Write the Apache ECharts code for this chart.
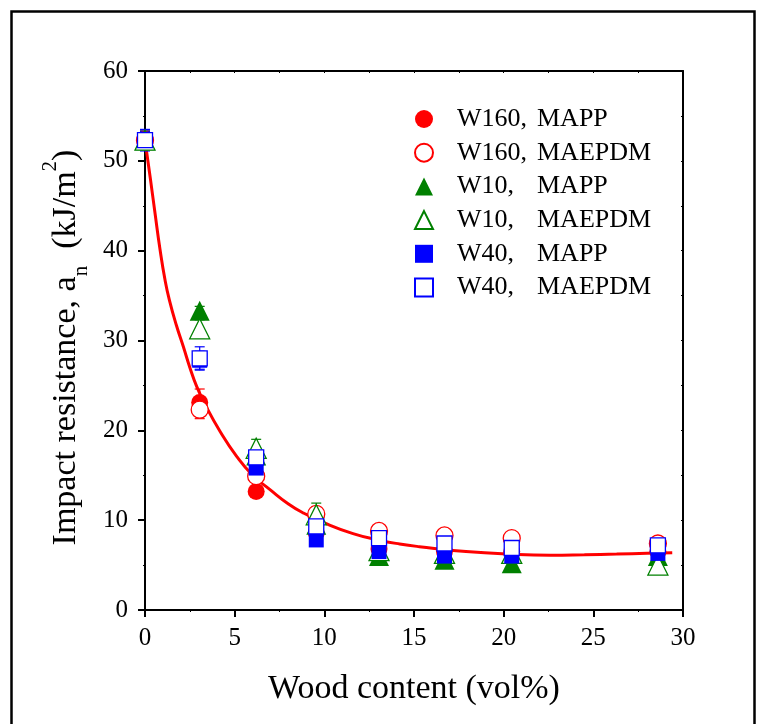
<!DOCTYPE html>
<html>
<head>
<meta charset="utf-8">
<script src="https://cdn.jsdelivr.net/npm/echarts@6/dist/echarts.min.js"></script>
<style>html,body{margin:0;padding:0;background:#fff}#c{width:762px;height:724px}</style>
</head>
<body>
<div id="c"></div>
<script>
// ---- data ----
var woodContent = [0, 3.05, 6.2, 9.55, 13.05, 16.7, 20.45, 28.6];
var seriesNames = ['W160, MAPP', 'W160, MAEPDM', 'W10, MAPP', 'W10, MAEPDM', 'W40, MAPP', 'W40, MAEPDM'];
var w160Mapp    = [52.3, 23.1, 13.2, 8.6, 6.8, 6.5, 6.5, 6.5];
var w160MappErr = [1.0, 1.5, 0.5, 0.6, 0.5, 0.5, 0.5, 0.5];
var w160Maepdm    = [52.3, 22.3, 14.9, 10.7, 8.8, 8.3, 8.0, 7.4];
var w160MaepdmErr = [1.0, 1.0, 0.7, 0.8, 0.6, 0.7, 0.6, 0.6];
var w10Mapp    = [52.3, 33.3, 17.2, 9.5, 6.0, 5.6, 5.2, 6.0];
var w10MappErr = [0.8, 0.5, 0.8, 1.0, 0.6, 0.7, 0.8, 0.6];
var w10Maepdm    = [52.3, 31.3, 18.0, 10.6, 6.6, 6.3, 6.3, 5.0];
var w10MaepdmErr = [1.0, 1.0, 1.0, 1.3, 0.8, 0.8, 0.7, 0.8];
var w40Mapp    = [52.3, 27.8, 15.8, 7.8, 6.5, 6.0, 6.0, 6.3];
var w40MappErr = [1.0, 1.0, 0.6, 0.5, 0.5, 0.5, 0.5, 0.5];
var w40Maepdm    = [52.3, 28.0, 17.0, 9.3, 8.0, 7.4, 6.9, 7.2];
var w40MaepdmErr = [1.2, 1.3, 1.0, 0.8, 0.7, 0.7, 0.6, 0.6];
// fitted curve
var fitX = [0, 0.3, 0.55, 0.84, 1.12, 1.36, 1.75, 2.14, 2.5, 2.88, 3.4, 4.18, 5.11, 6.0, 6.97, 8.0, 8.83, 10, 11.6, 13, 14.2, 15.3, 17.9, 20.5, 22.6, 24.5, 26.3, 28, 29.4];
var fitY = [52.3, 48.0, 44.3, 40.1, 36.7, 34.5, 31.7, 29.3, 27.0, 24.9, 22.7, 19.9, 17.1, 15.0, 13.4, 11.8, 10.8, 9.7, 8.5, 7.8, 7.35, 7.05, 6.5, 6.2, 6.1, 6.15, 6.23, 6.32, 6.38];
var xTicks = [0, 5, 10, 15, 20, 25, 30];
var yTicks = [0, 10, 20, 30, 40, 50, 60];

var FONT = 'Liberation Serif';
function zip(xs, ys, es) {
  return xs.map(function (x, i) { return es ? [x, ys[i], es[i]] : [x, ys[i]]; });
}
function errSeries(color, xs, ys, es) {
  return {
    type: 'custom',
    data: zip(xs, ys, es),
    silent: true,
    z: 3,
    renderItem: function (params, api) {
      var x = api.value(0), y = api.value(1), e = api.value(2);
      var t = api.coord([x, y + e]), b = api.coord([x, y - e]);
      var w = 5;
      var st = { stroke: color, lineWidth: 1.2 };
      return {
        type: 'group',
        children: [
          { type: 'line', shape: { x1: t[0], y1: t[1], x2: b[0], y2: b[1] }, style: st },
          { type: 'line', shape: { x1: t[0] - w, y1: t[1], x2: t[0] + w, y2: t[1] }, style: st },
          { type: 'line', shape: { x1: b[0] - w, y1: b[1], x2: b[0] + w, y2: b[1] }, style: st }
        ]
      };
    }
  };
}
function scatter(name, symbol, size, color, filled, xs, ys) {
  return {
    name: name,
    type: 'scatter',
    symbol: symbol,
    symbolSize: size,
    z: 3,
    itemStyle: filled ? { color: color, borderWidth: 0, opacity: 1 } : { color: '#fff', borderColor: color, borderWidth: 1.3, opacity: 1 },
    data: zip(xs, ys)
  };
}

var series = [
  { type: 'line', data: zip(fitX, fitY), smooth: true, showSymbol: false, symbol: 'none',
    lineStyle: { color: '#ff0000', width: 3 }, z: 2, silent: true },
  scatter(seriesNames[0], 'circle', 17, '#ff0000', true, woodContent, w160Mapp),
  errSeries('#ff0000', woodContent, w160Mapp, w160MappErr),
  scatter(seriesNames[1], 'circle', 17, '#ff0000', false, woodContent, w160Maepdm),
  errSeries('#ff0000', woodContent, w160Maepdm, w160MaepdmErr),
  scatter(seriesNames[2], 'triangle', 20, '#008000', true, woodContent, w10Mapp),
  errSeries('#008000', woodContent, w10Mapp, w10MappErr),
  scatter(seriesNames[3], 'triangle', 20, '#008000', false, woodContent, w10Maepdm),
  errSeries('#008000', woodContent, w10Maepdm, w10MaepdmErr),
  scatter(seriesNames[4], 'rect', 15, '#0000ff', true, woodContent, w40Mapp),
  errSeries('#0000ff', woodContent, w40Mapp, w40MappErr),
  scatter(seriesNames[5], 'rect', 15, '#0000ff', false, woodContent, w40Maepdm),
  errSeries('#0000ff', woodContent, w40Maepdm, w40MaepdmErr)
];

var axisLine = { show: true, onZero: false, lineStyle: { color: '#000', width: 2 } };
var chart = echarts.init(document.getElementById('c'), null, { renderer: 'canvas' });
chart.setOption({
  animation: false,
  backgroundColor: '#fff',
  grid: { left: 145, top: 71, right: 79, bottom: 114 },
  legend: {
    orient: 'vertical',
    left: 409,
    top: 101,
    itemWidth: 18,
    itemHeight: 18,
    itemGap: 7.7,
    data: seriesNames,
    selectedMode: false,
    formatter: function (name) {
      var p = name.split(', ');
      return '{s|}{a|' + p[0] + ',}{b|' + p[1] + '}';
    },
    textStyle: {
      fontFamily: FONT, fontSize: 26, color: '#000', lineHeight: 18,
      rich: {
        s: { width: 19, lineHeight: 18 },
        a: { width: 80, fontFamily: FONT, fontSize: 26, color: '#000', lineHeight: 18 },
        b: { fontFamily: FONT, fontSize: 26, color: '#000', lineHeight: 18 }
      }
    }
  },
  xAxis: [{
    type: 'value', min: 0, max: 30, interval: 5, position: 'bottom',
    name: 'Wood content (vol%)', nameLocation: 'middle', nameGap: 62,
    nameTextStyle: { fontFamily: FONT, fontSize: 34, color: '#000' },
    axisLine: axisLine,
    axisTick: { show: true, inside: false, length: 7, lineStyle: { color: '#000', width: 2 } },
    minorTick: { show: true, splitNumber: 2, length: 2, lineStyle: { color: '#000', width: 1 } },
    axisLabel: { fontFamily: FONT, fontSize: 25, color: '#000', margin: 16 },
    splitLine: { show: false }
  }, {
    type: 'value', min: 0, max: 30, interval: 5, position: 'top',
    axisLine: axisLine,
    axisTick: { show: true, inside: true, length: 2, lineStyle: { color: '#000', width: 1 } },
    minorTick: { show: true, splitNumber: 2, length: 2, lineStyle: { color: '#000', width: 1 } },
    axisLabel: { show: false }, splitLine: { show: false }
  }],
  yAxis: [{
    type: 'value', min: 0, max: 60, interval: 10, position: 'left',
    name: '{t|Impact resistance, a}{sub|n}{t|  (kJ/m}{sup|2}{t|)}',
    nameLocation: 'middle', nameGap: 52,
    nameTextStyle: {
      fontFamily: FONT, fontSize: 34, color: '#000',
      padding: [0, 14, 0, 0],
      rich: {
        t: { fontFamily: FONT, fontSize: 34, color: '#000', lineHeight: 52, verticalAlign: 'middle' },
        sub: { fontFamily: FONT, fontSize: 21, color: '#000', lineHeight: 52, verticalAlign: 'bottom' },
        sup: { fontFamily: FONT, fontSize: 21, color: '#000', lineHeight: 52, verticalAlign: 'top' }
      }
    },
    axisLine: axisLine,
    axisTick: { show: true, inside: false, length: 7, lineStyle: { color: '#000', width: 2 } },
    minorTick: { show: true, splitNumber: 2, length: 2, lineStyle: { color: '#000', width: 1 } },
    axisLabel: { fontFamily: FONT, fontSize: 25, color: '#000', margin: 17 },
    splitLine: { show: false }
  }, {
    type: 'value', min: 0, max: 60, interval: 10, position: 'right',
    axisLine: axisLine,
    axisTick: { show: true, inside: true, length: 2, lineStyle: { color: '#000', width: 1 } },
    minorTick: { show: true, splitNumber: 2, length: 2, lineStyle: { color: '#000', width: 1 } },
    axisLabel: { show: false }, splitLine: { show: false }
  }],
  graphic: [{
    type: 'rect', left: 9, top: 9, z: 100, silent: true,
    shape: { x: 0, y: 0, width: 743, height: 740 },
    style: { fill: 'none', stroke: '#000', lineWidth: 2.5 }
  }],
  series: series
});
</script>
</body>
</html>
